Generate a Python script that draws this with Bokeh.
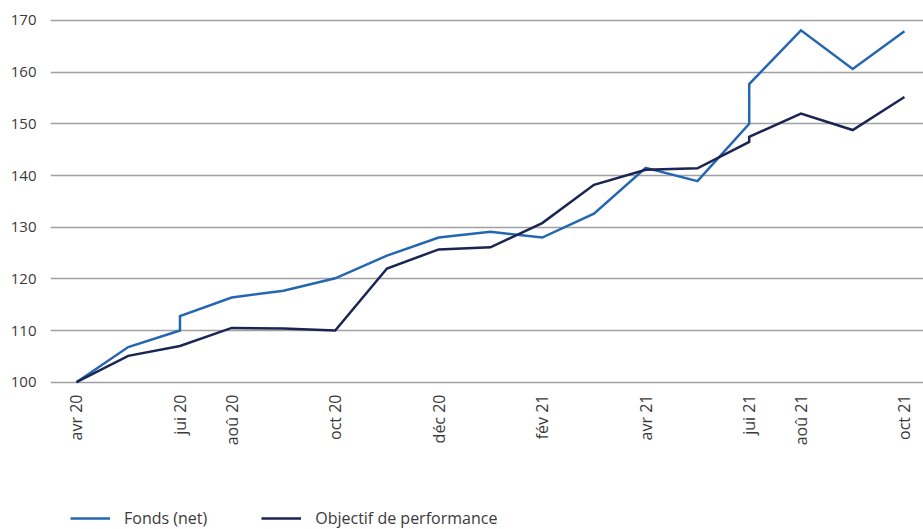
import math
from bokeh.plotting import figure
from bokeh.layouts import column
from bokeh.models import FixedTicker, Legend, LegendItem, Range1d
from bokeh.embed import file_html
from bokeh.resources import INLINE

# Data (x = month index on the chart's evenly spaced axis; duplicated index = step)
fonds_x = [0, 1, 2, 2, 3, 4, 5, 6, 7, 8, 9, 10, 11, 12, 13, 13, 14, 15, 16]
fonds_y = [100, 106.8, 110.0, 112.8, 116.4, 117.7, 120.1, 124.5, 128.0, 129.1,
           128.0, 132.6, 141.5, 138.9, 150.0, 157.7, 168.1, 160.6, 167.9]
obj_x = [0, 1, 2, 3, 4, 5, 6, 7, 8, 9, 10, 11, 12, 13, 13, 14, 15, 16]
obj_y = [100, 105.1, 107.0, 110.5, 110.4, 110.0, 122.0, 125.7, 126.1, 130.8,
         138.2, 141.1, 141.4, 146.5, 147.5, 152.0, 148.8, 155.2]
tick_pos = [0, 2, 3, 5, 7, 9, 11, 13, 14, 16]
tick_labels = ["avr 20", "jui 20", "aoû 20", "oct 20", "déc 20",
               "fév 21", "avr 21", "jui 21", "aoû 21", "oct 21"]
y_ticks = [100, 110, 120, 130, 140, 150, 160, 170]
series_names = ["Fonds (net)", "Objectif de performance"]
colors = ["#2566b0", "#1b2553"]

FONT = "Open Sans"
TXT = "#3a3a3a"

p = figure(width=923, height=500, output_backend="svg", toolbar_location=None,
           x_range=Range1d(-0.502, 16.368), y_range=Range1d(99.36, 170.58),
           min_border_left=50, min_border_right=0, min_border_top=17,
           min_border_bottom=115)
p.outline_line_color = None

p.line(fonds_x, fonds_y, line_color=colors[0], line_width=2.5, line_join="miter")
p.line(obj_x, obj_y, line_color=colors[1], line_width=2.5, line_join="miter")

p.xgrid.visible = False
p.ygrid.ticker = FixedTicker(ticks=y_ticks)
p.ygrid.grid_line_color = "#a0a0a0"
p.ygrid.grid_line_width = 1.3

p.yaxis.ticker = FixedTicker(ticks=y_ticks)
p.yaxis.axis_line_color = None
p.yaxis.major_tick_line_color = None
p.yaxis.minor_tick_line_color = None
p.yaxis.major_tick_in = 0
p.yaxis.major_tick_out = 0
p.yaxis.major_label_standoff = 14
p.yaxis.major_label_text_font = FONT
p.yaxis.major_label_text_font_size = "15px"
p.yaxis.major_label_text_color = TXT

p.xaxis.ticker = FixedTicker(ticks=tick_pos)
p.xaxis.major_label_overrides = {t: l for t, l in zip(tick_pos, tick_labels)}
p.xaxis.major_label_orientation = math.pi / 2
p.xaxis.axis_line_color = None
p.xaxis.major_tick_line_color = None
p.xaxis.minor_tick_line_color = None
p.xaxis.major_tick_in = 0
p.xaxis.major_tick_out = 0
p.xaxis.major_label_standoff = 9
p.xaxis.major_label_text_font = FONT
p.xaxis.major_label_text_font_size = "16px"
p.xaxis.major_label_text_color = TXT

# Legend strip below the chart (series drawn out of view, only legend shows)
lf = figure(width=923, height=29, output_backend="svg", toolbar_location=None,
            x_axis_type=None, y_axis_type=None,
            x_range=Range1d(0, 1), y_range=Range1d(0, 1),
            min_border_left=0, min_border_right=0, min_border_top=0,
            min_border_bottom=0)
lf.outline_line_color = None
lf.grid.visible = False
lr1 = lf.line(fonds_x, fonds_y, line_color=colors[0], line_width=2.5)
lr2 = lf.line(obj_x, obj_y, line_color=colors[1], line_width=2.5)
legend = Legend(items=[LegendItem(label=series_names[0], renderers=[lr1]),
                       LegendItem(label=series_names[1], renderers=[lr2])],
                orientation="horizontal", location=(20, 0),
                glyph_width=40, glyph_height=20, label_standoff=14, spacing=54,
                padding=0, margin=0, border_line_color=None,
                background_fill_alpha=0,
                label_text_font=FONT, label_text_font_size="16px",
                label_text_color=TXT)
lf.add_layout(legend, "center")

open("out.html", "w").write(file_html(column(p, lf, spacing=0), INLINE))
